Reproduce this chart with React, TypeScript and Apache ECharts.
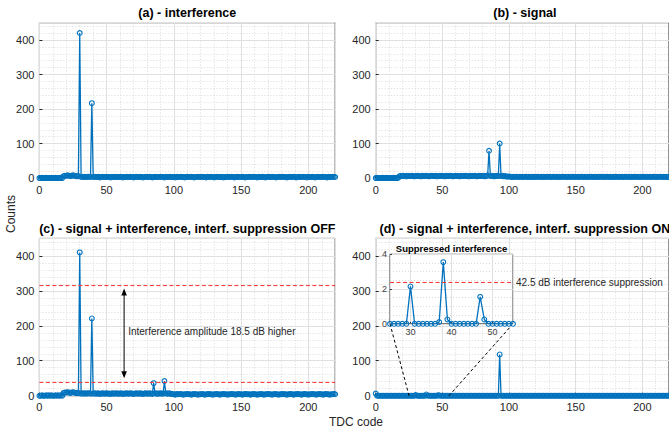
import { useEffect, useRef } from "react";
import * as echarts from "echarts";

// ---------------- DATA ----------------
// TDC codes 0..220
const tdcCodes: number[] = Array.from({ length: 221 }, (_, i) => i);

// (a) interference only
const interference: number[] = [
  0, 0, 1, 0, 0, 1, 0, 0, 0, 1,
  0, 0, 1, 0, 0, 0, 1, 0, 6, 7,
  7, 8, 7, 6, 7, 8, 7, 6, 5, 6,
  420, 3, 4, 3, 4, 3, 4, 4, 3, 217,
  3, 4, 3, 3, 4, 2, 3, 4, 3, 3,
  4, 3, 3, 2, 4, 3, 3, 4, 3, 3,
  3, 4, 2, 3, 3, 4, 3, 3, 4, 3,
  2, 3, 4, 3, 3, 4, 3, 2, 3, 4,
  3, 3, 4, 3, 2, 3, 4, 3, 3, 3,
  4, 3, 3, 2, 4, 3, 3, 4, 3, 3,
  3, 2, 4, 3, 3, 4, 3, 3, 2, 3,
  4, 3, 3, 4, 3, 2, 3, 3, 4, 3,
  3, 4, 3, 3, 2, 4, 3, 3, 4, 3,
  2, 3, 4, 3, 3, 3, 4, 2, 3, 3,
  4, 3, 3, 4, 3, 2, 3, 4, 3, 3,
  3, 4, 3, 2, 3, 3, 4, 3, 3, 4,
  3, 3, 2, 4, 3, 3, 4, 3, 2, 3,
  4, 3, 3, 4, 3, 3, 2, 3, 4, 3,
  3, 4, 3, 3, 2, 3, 4, 3, 3, 4,
  3, 2, 3, 4, 3, 3, 4, 3, 3, 2,
  4, 3, 3, 4, 3, 2, 3, 4, 3, 3,
  3, 4, 3, 3, 2, 4, 3, 3, 4, 3,
  3,
];

// (b) signal only
const signal: number[] = [
  0, 1, 0, 0, 0, 1, 0, 0, 1, 0,
  0, 0, 0, 1, 0, 0, 0, 1, 6, 7,
  6, 7, 6, 5, 7, 6, 6, 7, 6, 5,
  6, 7, 6, 6, 5, 7, 6, 6, 7, 6,
  5, 6, 7, 6, 6, 7, 5, 6, 6, 7,
  6, 6, 5, 7, 6, 6, 7, 6, 5, 6,
  7, 6, 6, 5, 7, 6, 6, 7, 6, 6,
  5, 7, 6, 6, 7, 6, 5, 6, 7, 6,
  6, 7, 5, 6, 8, 79, 6, 7, 6, 5,
  6, 7, 6, 100, 6, 7, 5, 6, 5, 4,
  5, 4, 3, 4, 3, 4, 4, 3, 4, 3,
  4, 3, 4, 4, 3, 4, 3, 4, 3, 4,
  3, 4, 4, 3, 4, 3, 4, 3, 4, 4,
  3, 4, 3, 4, 4, 3, 4, 3, 4, 3,
  4, 4, 3, 4, 3, 4, 3, 4, 4, 3,
  4, 3, 4, 3, 4, 4, 3, 4, 3, 4,
  3, 4, 4, 3, 4, 3, 4, 3, 4, 4,
  3, 4, 3, 4, 4, 3, 4, 3, 4, 3,
  4, 4, 3, 4, 3, 4, 3, 4, 4, 3,
  4, 3, 4, 3, 4, 4, 3, 4, 3, 4,
  3, 4, 4, 3, 4, 3, 4, 3, 4, 4,
  3, 4, 3, 4, 4, 3, 4, 3, 4, 3,
  4,
];

// (c) signal + interference, suppression OFF
const suppressionOff: number[] = [
  0, 0, 1, 0, 0, 1, 0, 1, 0, 1,
  0, 0, 1, 0, 1, 0, 1, 0, 8, 9,
  9, 10, 9, 8, 9, 10, 9, 8, 7, 8,
  410, 6, 7, 6, 7, 6, 7, 7, 6, 221,
  6, 7, 6, 6, 7, 5, 6, 7, 6, 6,
  7, 6, 6, 5, 7, 6, 6, 7, 6, 6,
  6, 7, 5, 6, 6, 7, 6, 6, 7, 6,
  5, 6, 7, 6, 6, 7, 6, 5, 6, 7,
  6, 6, 7, 6, 5, 36, 7, 6, 6, 6,
  7, 6, 6, 42, 7, 6, 6, 7, 5, 5,
  4, 3, 5, 4, 4, 5, 4, 3, 4, 4,
  5, 4, 4, 3, 4, 5, 4, 4, 3, 4,
  4, 5, 4, 3, 4, 4, 5, 4, 4, 3,
  4, 4, 5, 4, 3, 4, 4, 5, 4, 4,
  3, 4, 4, 5, 4, 4, 3, 4, 5, 4,
  4, 3, 4, 5, 4, 4, 4, 3, 4, 5,
  4, 4, 3, 4, 4, 5, 4, 3, 4, 4,
  5, 4, 4, 3, 4, 5, 4, 4, 3, 4,
  4, 5, 4, 4, 3, 4, 4, 5, 4, 3,
  4, 4, 5, 4, 4, 3, 4, 5, 4, 4,
  3, 4, 4, 5, 4, 4, 3, 4, 5, 4,
  4, 3, 4, 5, 4, 4, 3, 4, 4, 5,
  4,
];

// (d) signal + interference, suppression ON
const suppressionOn: number[] = [
  6, 0, 0, 0, 0, 0, 0, 0, 0, 0,
  0, 0, 0, 0, 0, 0, 0, 0, 0, 0,
  0, 0, 0, 0, 0, 0, 0, 0, 0, 0,
  2.15, 0, 0, 0, 0, 0, 0, 0.1, 3.55, 0.25,
  0, 0, 0, 0, 0, 0, 0, 1.55, 0.25, 0,
  0, 0, 0, 0, 0, 0, 0, 0, 0, 0,
  0, 0, 0, 0, 0, 0, 0, 0, 0, 0,
  0, 0, 0, 0, 0, 0, 0, 0, 0, 0,
  0, 0, 0, 0, 0, 0, 0, 0, 0, 0,
  0, 0, 0, 118, 0, 0, 0, 0, 0, 0,
  0, 0, 0, 0, 0, 0, 0, 0, 0, 0,
  0, 0, 0, 0, 0, 0, 0, 0, 0, 0,
  0, 0, 0, 0, 0, 0, 0, 0, 0, 0,
  0, 0, 0, 0, 0, 0, 0, 0, 0, 0,
  0, 0, 0, 0, 0, 0, 0, 0, 0, 0,
  0, 0, 0, 0, 0, 0, 0, 0, 0, 0,
  0, 0, 0, 0, 0, 0, 0, 0, 0, 0,
  0, 0, 0, 0, 0, 0, 0, 0, 0, 0,
  0, 0, 0, 0, 0, 0, 0, 0, 0, 0,
  0, 0, 0, 0, 0, 0, 0, 0, 0, 0,
  0, 0, 0, 0, 0, 0, 0, 0, 0, 0,
  0, 0, 0, 0, 0, 0, 0, 0, 0, 0,
  0,
];

const panelTitles: string[] = [
  "(a) - interference",
  "(b) - signal",
  "(c) - signal + interference, interf. suppression OFF",
  "(d) - signal + interference, interf. suppression ON",
];

const xRange: number[] = [0, 220];
const yRange: number[] = [0, 450];
const insetXRange: number[] = [25, 55];
const insetYRange: number[] = [0, 4];

const offLevels: number[] = [315, 38];
const arrowFrom: number[] = [63, 307];
const arrowTo: number[] = [63, 50];
const offNote = "Interference amplitude 18.5 dB higher";
const offNoteAt: number[] = [66, 184];

const onLevel = 2.38;
const onNote = "42.5 dB interference suppression";
const insetTitle = "Suppressed interference";
const yLabel = "Counts";
const xLabel = "TDC code";

// ---------------- LAYOUT ----------------
const PANELS = [
  { left: 39.4, top: 22.7, width: 295.8, height: 155.4 },
  { left: 375.7, top: 22.7, width: 298.3, height: 155.4 },
  { left: 39.4, top: 238.4, width: 295.8, height: 157.3 },
  { left: 375.7, top: 238.4, width: 298.3, height: 157.3 },
];
const INSET = { left: 390, top: 254.3, width: 123, height: 69.5 };

const FONT = "'Liberation Sans', Arial, Helvetica, sans-serif";
const AX = "#262626";
const BLUE = "#0072BD";
const MAJOR = "#e0e0e0";
const MINOR = "#dadada";
const RED = "#ff3030";

export default function App() {
  const ref = useRef<HTMLDivElement>(null);

  useEffect(() => {
    document.body.style.margin = "0";
    const chart = echarts.init(ref.current!, null, { renderer: "svg" });

    const seriesValues = [interference, signal, suppressionOff, suppressionOn];

    const grids: any[] = PANELS.map((p) => ({
      ...p,
      show: true,
      borderColor: AX,
      borderWidth: 1,
      backgroundColor: "rgba(0,0,0,0)",
      containLabel: false,
    }));
    grids.push({
      ...INSET,
      show: true,
      borderColor: "#404040",
      borderWidth: 1,
      backgroundColor: "#ffffff",
      containLabel: false,
      z: 5,
    });

    const xAxes: any[] = [];
    const yAxes: any[] = [];
    PANELS.forEach((_, i) => {
      xAxes.push({
        gridIndex: i,
        type: "value",
        min: xRange[0],
        max: xRange[1],
        interval: 50,
        position: "bottom",
        axisLine: { show: false },
        axisTick: { show: true, inside: true, length: 3, lineStyle: { color: AX } },
        axisLabel: {
          color: AX,
          fontSize: 11,
          fontFamily: FONT,
          margin: 6,
          showMaxLabel: false,
        },
        splitLine: { show: true, lineStyle: { color: MAJOR, width: 1 } },
        z: 1,
      });
      xAxes.push({
        gridIndex: i,
        type: "value",
        min: xRange[0],
        max: xRange[1],
        interval: 10,
        position: "bottom",
        axisLine: { show: false },
        axisTick: { show: false },
        axisLabel: { show: false },
        splitLine: { show: true, lineStyle: { color: MINOR, width: 1, type: [1, 2] } },
        z: 0,
      });
      yAxes.push({
        gridIndex: i,
        type: "value",
        min: yRange[0],
        max: yRange[1],
        interval: 100,
        position: "left",
        axisLine: { show: false },
        axisTick: { show: true, inside: true, length: 3, lineStyle: { color: AX } },
        axisLabel: {
          color: AX,
          fontSize: 11,
          fontFamily: FONT,
          margin: 5,
          showMaxLabel: false,
        },
        splitLine: { show: true, lineStyle: { color: MAJOR, width: 1 } },
        z: 1,
      });
      yAxes.push({
        gridIndex: i,
        type: "value",
        min: yRange[0],
        max: yRange[1],
        interval: 20,
        position: "left",
        axisLine: { show: false },
        axisTick: { show: false },
        axisLabel: { show: false },
        splitLine: { show: true, lineStyle: { color: MINOR, width: 1, type: [1, 2] } },
        z: 0,
      });
    });
    // inset axes
    xAxes.push({
      gridIndex: 4,
      type: "value",
      min: insetXRange[0],
      max: insetXRange[1],
      splitNumber: 3,
      position: "bottom",
      axisLine: { show: false },
      axisTick: { show: true, inside: true, length: 2, lineStyle: { color: "#404040" } },
      axisLabel: {
        color: "#404040",
        fontSize: 9,
        fontFamily: FONT,
        margin: 4,
        showMinLabel: false,
        showMaxLabel: false,
      },
      splitLine: { show: true, lineStyle: { color: MAJOR, width: 1 } },
      z: 6,
    });
    yAxes.push({
      gridIndex: 4,
      type: "value",
      min: insetYRange[0],
      max: insetYRange[1],
      interval: 2,
      position: "left",
      axisLine: { show: false },
      axisTick: { show: true, inside: true, length: 2, lineStyle: { color: "#404040" } },
      axisLabel: { color: "#404040", fontSize: 9, fontFamily: FONT, margin: 3 },
      splitLine: { show: true, lineStyle: { color: MAJOR, width: 1 } },
      minorTick: { show: false, splitNumber: 4 },
      minorSplitLine: { show: true, lineStyle: { color: MINOR, width: 1, type: [1, 2] } },
      z: 6,
    });

    const baseSeries = {
      type: "line",
      symbol: "circle",
      symbolSize: 4.8,
      showAllSymbol: true,
      silent: true,
      lineStyle: { color: BLUE, width: 1.3 },
      itemStyle: { color: "rgba(0,0,0,0)", borderColor: BLUE, borderWidth: 1.1 },
      emphasis: { disabled: true },
      z: 3,
    };

    const series: any[] = seriesValues.map((vals, i) => ({
      ...baseSeries,
      xAxisIndex: i * 2,
      yAxisIndex: i * 2,
      data: tdcCodes.map((x, k) => [x, vals[k]]),
    }));

    const insetData = tdcCodes
      .filter((x) => x >= insetXRange[0] && x <= insetXRange[1])
      .map((x) => [x, suppressionOn[x]]);
    series.push({
      ...baseSeries,
      xAxisIndex: 8,
      yAxisIndex: 8,
      data: insetData,
      z: 8,
    });

    chart.setOption({
      animation: false,
      grid: grids,
      xAxis: xAxes,
      yAxis: yAxes,
      series,
    });

    // annotations anchored to data coordinates
    const px = (seriesIndex: number, v: number[]) =>
      chart.convertToPixel({ seriesIndex }, v) as number[];

    const graphics: any[] = [];
    PANELS.forEach((p, i) => {
      graphics.push({
        type: "text",
        x: p.left + p.width / 2,
        y: p.top - 9.5,
        z: 20,
        style: {
          text: panelTitles[i],
          fill: "#000",
          font: `bold 12.5px ${FONT}`,
          align: "center",
          verticalAlign: "middle",
        },
      });
    });
    graphics.push({
      type: "text",
      x: INSET.left + INSET.width / 2,
      y: INSET.top - 6,
      z: 20,
      style: {
        text: insetTitle,
        fill: "#000",
        font: `bold 9.5px ${FONT}`,
        align: "center",
        verticalAlign: "middle",
      },
    });
    graphics.push({
      type: "text",
      x: 11,
      y: 214,
      rotation: Math.PI / 2,
      z: 20,
      style: {
        text: yLabel,
        fill: AX,
        font: `12px ${FONT}`,
        align: "center",
        verticalAlign: "middle",
      },
    });
    graphics.push({
      type: "text",
      x: 356,
      y: 422,
      z: 20,
      style: {
        text: xLabel,
        fill: AX,
        font: `12px ${FONT}`,
        align: "center",
        verticalAlign: "middle",
      },
    });

    // red dashed reference levels in (c)
    offLevels.forEach((lv) => {
      const p0 = px(2, [xRange[0], lv]);
      const p1 = px(2, [xRange[1], lv]);
      graphics.push({
        type: "line",
        z: 4,
        shape: { x1: p0[0], y1: p0[1], x2: p1[0], y2: p1[1] },
        style: { stroke: RED, lineWidth: 1, lineDash: [4, 2.5] },
      });
    });

    // red dashed level in inset (d) + note
    const q0 = px(4, [insetXRange[0], onLevel]);
    const q1 = px(4, [insetXRange[1], onLevel]);
    graphics.push({
      type: "line",
      z: 30,
      shape: { x1: q0[0], y1: q0[1], x2: q1[0], y2: q1[1] },
      style: { stroke: RED, lineWidth: 1, lineDash: [4, 2.5] },
    });
    graphics.push({
      type: "text",
      x: q1[0] + 3,
      y: q1[1],
      z: 30,
      style: {
        text: onNote,
        fill: AX,
        font: `10px ${FONT}`,
        align: "left",
        verticalAlign: "middle",
      },
    });

    // double arrow in (c)
    const a1 = px(2, arrowFrom);
    const a2 = px(2, arrowTo);
    const head = 7;
    const hw = 2.8;
    graphics.push({
      type: "line",
      z: 20,
      shape: { x1: a1[0], y1: a1[1] + head - 1, x2: a2[0], y2: a2[1] - head + 1 },
      style: { stroke: "#000", lineWidth: 1 },
    });
    graphics.push({
      type: "polygon",
      z: 20,
      shape: { points: [[a1[0], a1[1]], [a1[0] - hw, a1[1] + head], [a1[0] + hw, a1[1] + head]] },
      style: { fill: "#000" },
    });
    graphics.push({
      type: "polygon",
      z: 20,
      shape: { points: [[a2[0], a2[1]], [a2[0] - hw, a2[1] - head], [a2[0] + hw, a2[1] - head]] },
      style: { fill: "#000" },
    });
    const n = px(2, offNoteAt);
    graphics.push({
      type: "text",
      x: n[0],
      y: n[1],
      z: 20,
      style: {
        text: offNote,
        fill: AX,
        font: `10px ${FONT}`,
        align: "left",
        verticalAlign: "middle",
      },
    });

    // zoom connectors in (d)
    [insetXRange[0], insetXRange[1]].forEach((xv) => {
      const from = px(4, [xv, insetYRange[0]]);
      const to = px(3, [xv, 0]);
      graphics.push({
        type: "line",
        z: 4,
        shape: { x1: from[0], y1: from[1], x2: to[0], y2: to[1] },
        style: { stroke: "#000", lineWidth: 1, lineDash: [3, 2.5] },
      });
    });

    chart.setOption({ graphic: graphics });

    return () => {
      chart.dispose();
    };
  }, []);

  return <div ref={ref} style={{ width: 669, height: 432 }} />;
}
